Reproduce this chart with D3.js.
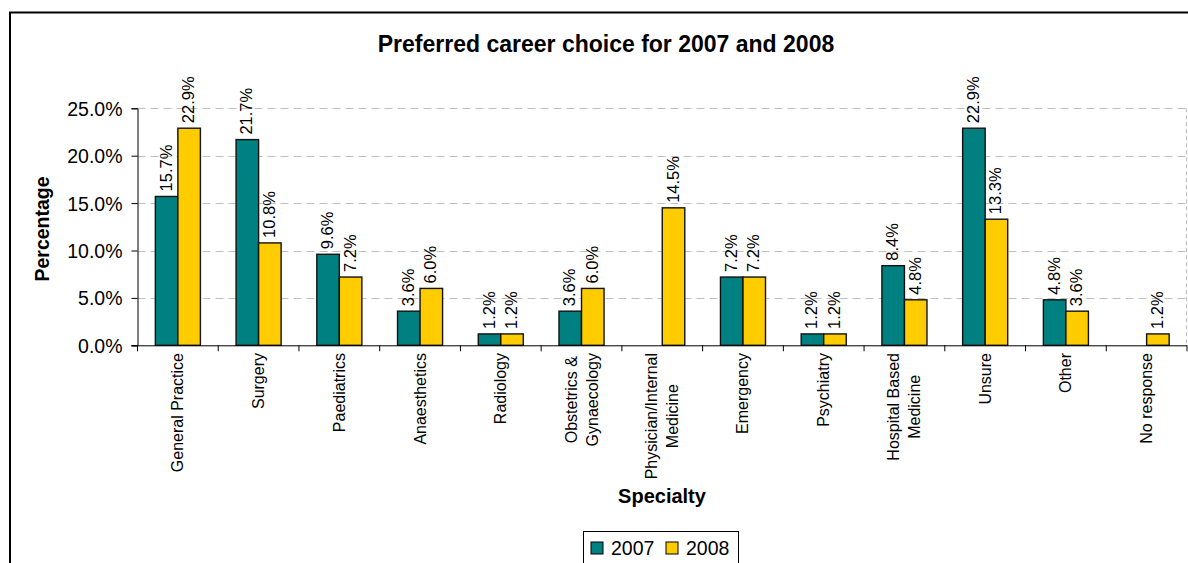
<!DOCTYPE html>
<html><head><meta charset="utf-8">
<script src="https://cdn.jsdelivr.net/npm/d3@7"></script>
<style>
html,body{margin:0;padding:0;background:#fff;}
svg{display:block;font-family:"Liberation Sans",Arial,sans-serif;}
</style></head>
<body><svg id="chart" width="1188" height="563"></svg>
<script>
const categories = ["General Practice","Surgery","Paediatrics","Anaesthetics","Radiology","Obstetrics &\nGynaecology","Physician/Internal\nMedicine","Emergency","Psychiatry","Hospital Based\nMedicine","Unsure","Other","No response"];
const series = ["2007","2008"];
const values2007 = [15.7,21.7,9.6,3.6,1.2,3.6,null,7.2,1.2,8.4,22.9,4.8,null];
const values2008 = [22.9,10.8,7.2,6.0,1.2,6.0,14.5,7.2,1.2,4.8,13.3,3.6,1.2];
const yTicks = [0,5,10,15,20,25];
const colors = ["#008080","#FFCC00"];
const title = "Preferred career choice for 2007 and 2008";

const svg = d3.select("#chart");
const L = 137.5, R = 1187, T = 108.3, B = 345.3;

// outer border
svg.append("rect").attr("x",10).attr("y",12.5).attr("width",1300).attr("height",700)
  .attr("fill","none").attr("stroke","#000").attr("stroke-width",2);

const x = d3.scaleBand().domain(categories.map((d,i)=>i)).range([L,R]).paddingInner(0).paddingOuter(0);
const y = d3.scaleLinear().domain([0,25]).range([B,T]);
const bw = x.bandwidth()*0.279;

// gridlines
const grid = svg.append("g");
grid.selectAll("line").data(yTicks.filter(t=>t>0)).join("line")
  .attr("x1",L).attr("x2",R).attr("y1",d=>Math.round(y(d))+0.5).attr("y2",d=>Math.round(y(d))+0.5)
  .attr("stroke","#c0c0c0").attr("stroke-width",1.2).attr("stroke-dasharray","8,5");
// right plot border
svg.append("line").attr("x1",R-0.5).attr("x2",R-0.5).attr("y1",T).attr("y2",B)
  .attr("stroke","#c0c0c0").attr("stroke-width",1.2).attr("stroke-dasharray","4,3");

// bars
const data = [];
categories.forEach((c,i)=>{
  [values2007[i],values2008[i]].forEach((v,s)=>{ if(v!=null) data.push({i,s,v}); });
});
const cx = i => x(i)+x.bandwidth()/2;
svg.append("g").selectAll("rect").data(data).join("rect")
  .attr("x",d=>cx(d.i)-bw+d.s*bw).attr("width",bw)
  .attr("y",d=>y(d.v)).attr("height",d=>y(0)-y(d.v))
  .attr("fill",d=>colors[d.s]).attr("stroke","#111").attr("stroke-width",1.4);

// data labels
svg.append("g").selectAll("text").data(data).join("text")
  .attr("transform",d=>`translate(${cx(d.i)-bw/2+d.s*bw+5},${y(d.v)-5}) rotate(-90)`)
  .attr("font-size",16.5).attr("fill","#000").attr("text-anchor","start")
  .text(d=>d.v.toFixed(1)+"%");

// y axis
const yAxis = d3.axisLeft(y).tickValues(yTicks).tickSize(6).tickFormat(d=>d.toFixed(1)+"%");
const ya = svg.append("g").attr("transform",`translate(${L},0)`).call(yAxis);
ya.select(".domain").attr("stroke","#000");
ya.selectAll(".tick line").attr("stroke","#000");
ya.selectAll(".tick text").attr("font-size",19.5).attr("font-family","Liberation Sans, Arial, sans-serif").attr("fill","#000").attr("x",-15).attr("dy","0.36em");

// x axis
svg.append("line").attr("x1",L-6).attr("x2",R).attr("y1",B+0.5).attr("y2",B+0.5).attr("stroke","#000");
const bounds = d3.range(categories.length+1).map(i=> i<categories.length ? x(i) : R);
svg.append("g").selectAll("line").data(bounds).join("line")
  .attr("x1",d=>d).attr("x2",d=>d).attr("y1",B).attr("y2",B+6).attr("stroke","#000");

// category labels
const catG = svg.append("g");
categories.forEach((c,i)=>{
  const lines = c.split("\n");
  const g = catG.append("g").attr("transform",`translate(${cx(i)},353) rotate(-90)`);
  const texts = lines.map((ln,k)=> g.append("text").attr("font-size",16).attr("fill","#000")
      .attr("text-anchor","middle")
      .attr("y",(k-(lines.length-1)/2)*21+5.5).text(ln));
  const maxLen = d3.max(texts,t=>t.node().getComputedTextLength());
  texts.forEach(t=>t.attr("x",-maxLen/2));
});

// title
svg.append("text").attr("x",606).attr("y",52).attr("text-anchor","middle")
  .attr("font-size",23).attr("font-weight","bold").text(title);
// axis titles
svg.append("text").attr("transform","translate(49,229) rotate(-90)").attr("text-anchor","middle")
  .attr("font-size",19.5).attr("font-weight","bold").text("Percentage");
svg.append("text").attr("x",662).attr("y",503).attr("text-anchor","middle")
  .attr("font-size",20).attr("font-weight","bold").text("Specialty");

// legend
const lg = svg.append("g");
lg.append("rect").attr("x",583.5).attr("y",531.5).attr("width",155).attr("height",60)
  .attr("fill","#fff").attr("stroke","#000").attr("stroke-width",1);
const lx = [591,666];
series.forEach((s,k)=>{
  lg.append("rect").attr("x",lx[k]).attr("y",542).attr("width",12).attr("height",12)
    .attr("fill",colors[k]).attr("stroke","#000").attr("stroke-width",1);
  lg.append("text").attr("x",lx[k]+20).attr("y",555).attr("font-size",19.5).text(s);
});
</script></body></html>
